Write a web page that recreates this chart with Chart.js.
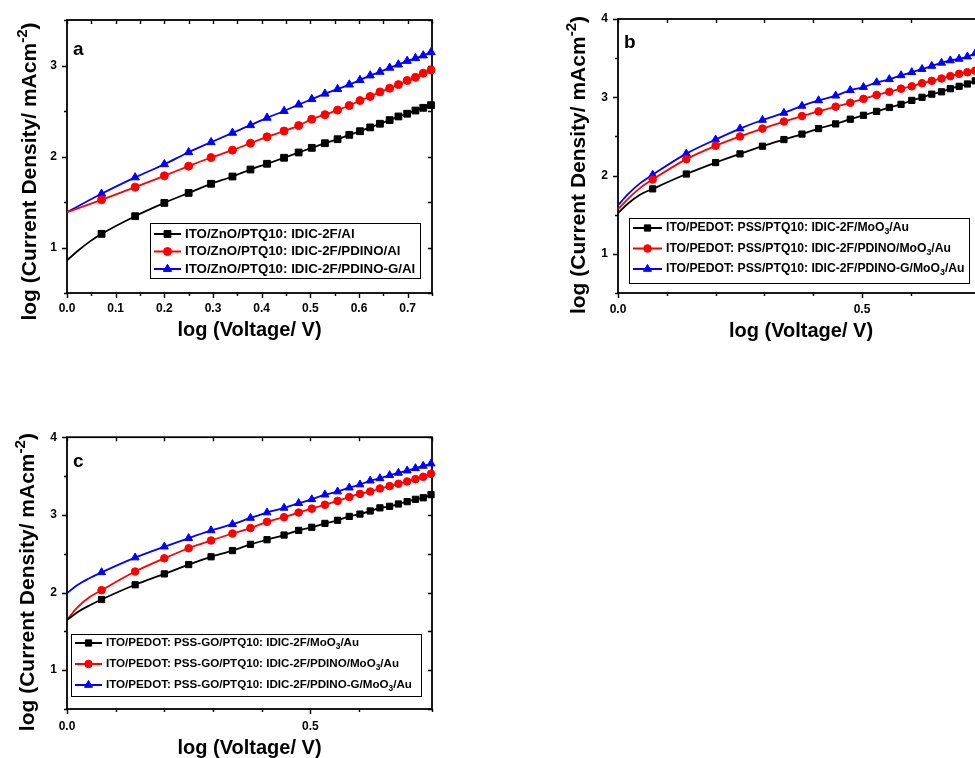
<!DOCTYPE html>
<html>
<head>
<meta charset="utf-8">
<script src="https://cdn.jsdelivr.net/npm/chart.js@4.4.0/dist/chart.umd.min.js"></script>
<style>
    html, body { margin: 0; padding: 0; background: #fff; overflow: hidden; width: 975px; height: 758px; }
    canvas { position: absolute; }
</style>
</head>
<body>
<canvas id="chart-a" width="450" height="345" style="left:0px;top:0px"></canvas>
<canvas id="chart-b" width="440" height="345" style="left:560px;top:0px"></canvas>
<canvas id="chart-c" width="450" height="338" style="left:0px;top:420px"></canvas>
<script>
// --- Data: log(V) where the markers sit, shared by all three devices ---
const logV = [0.071, 0.140, 0.200, 0.250, 0.296, 0.340, 0.377, 0.411, 0.446, 0.476, 0.503, 0.530,
              0.556, 0.580, 0.602, 0.623, 0.643, 0.663, 0.681, 0.699, 0.716, 0.732, 0.748];

// (a) ZnO cathode devices, log J at each logV
const aAl      = [1.15, 1.344, 1.49, 1.60, 1.70, 1.78, 1.857, 1.92, 1.986, 2.044, 2.095, 2.146,
                  2.19, 2.238, 2.278, 2.32, 2.36, 2.40, 2.44, 2.47, 2.505, 2.535, 2.564];
const aPdino   = [1.524, 1.663, 1.788, 1.894, 1.989, 2.07, 2.146, 2.216, 2.28, 2.34, 2.41, 2.46,
                  2.51, 2.56, 2.615, 2.66, 2.71, 2.75, 2.79, 2.835, 2.87, 2.915, 2.95];
const aPdinoG  = [1.59, 1.77, 1.915, 2.047, 2.157, 2.26, 2.344, 2.425, 2.50, 2.57, 2.63, 2.69,
                  2.74, 2.79, 2.84, 2.89, 2.93, 2.975, 3.01, 3.05, 3.08, 3.11, 3.146];
// unmarked points before the first marker
const aAlStart     = [[0, 0.86], [0.025, 0.975], [0.048, 1.07]];
const aPdinoStart  = [[0, 1.388]];
const aPdinoGStart = [[0, 1.388]];

// (b) PEDOT:PSS hole-only devices
const bMoO3    = [1.83, 2.02, 2.166, 2.277, 2.375, 2.46, 2.53, 2.60, 2.66, 2.72, 2.77, 2.82,
                  2.87, 2.91, 2.96, 3.00, 3.04, 3.07, 3.11, 3.14, 3.17, 3.21, 3.24];
const bPdino   = [1.95, 2.21, 2.38, 2.50, 2.60, 2.69, 2.76, 2.82, 2.88, 2.93, 2.98, 3.03,
                  3.07, 3.11, 3.14, 3.18, 3.21, 3.24, 3.27, 3.30, 3.32, 3.34, 3.37];
const bPdinoG  = [2.01, 2.28, 2.46, 2.60, 2.71, 2.80, 2.89, 2.96, 3.02, 3.09, 3.13, 3.19,
                  3.23, 3.28, 3.32, 3.36, 3.40, 3.44, 3.47, 3.49, 3.52, 3.56, 3.59];
const bMoO3Start   = [[0, 1.52], [0.02, 1.64], [0.045, 1.755]];
const bPdinoStart  = [[0, 1.57], [0.02, 1.70], [0.045, 1.84]];
const bPdinoGStart = [[0, 1.62], [0.02, 1.76], [0.045, 1.90]];

// (c) PEDOT:PSS-GO hole-only devices
const cMoO3    = [1.91, 2.10, 2.24, 2.36, 2.46, 2.54, 2.62, 2.68, 2.74, 2.80, 2.84, 2.89,
                  2.93, 2.98, 3.01, 3.05, 3.09, 3.11, 3.14, 3.17, 3.20, 3.22, 3.26];
const cPdino   = [2.03, 2.27, 2.44, 2.57, 2.67, 2.76, 2.83, 2.91, 2.97, 3.03, 3.08, 3.13,
                  3.18, 3.23, 3.27, 3.30, 3.34, 3.37, 3.40, 3.43, 3.46, 3.49, 3.53];
const cPdinoG  = [2.26, 2.45, 2.59, 2.70, 2.80, 2.88, 2.96, 3.03, 3.09, 3.15, 3.20, 3.26,
                  3.30, 3.35, 3.39, 3.44, 3.47, 3.51, 3.54, 3.57, 3.60, 3.63, 3.66];
const cMoO3Start   = [[0, 1.646], [0.02, 1.74], [0.045, 1.83]];
const cPdinoStart  = [[0, 1.646], [0.02, 1.80], [0.045, 1.935]];
const cPdinoGStart = [[0, 1.99], [0.02, 2.09], [0.045, 2.18]];

// legend labels (_3 = subscript)
const aLabels = ['ITO/ZnO/PTQ10: IDIC-2F/Al',
                 'ITO/ZnO/PTQ10: IDIC-2F/PDINO/Al',
                 'ITO/ZnO/PTQ10: IDIC-2F/PDINO-G/Al'];
const bLabels = ['ITO/PEDOT: PSS/PTQ10: IDIC-2F/MoO_3/Au',
                 'ITO/PEDOT: PSS/PTQ10: IDIC-2F/PDINO/MoO_3/Au',
                 'ITO/PEDOT: PSS/PTQ10: IDIC-2F/PDINO-G/MoO_3/Au'];
const cLabels = ['ITO/PEDOT: PSS-GO/PTQ10: IDIC-2F/MoO_3/Au',
                 'ITO/PEDOT: PSS-GO/PTQ10: IDIC-2F/PDINO/MoO_3/Au',
                 'ITO/PEDOT: PSS-GO/PTQ10: IDIC-2F/PDINO-G/MoO_3/Au'];

const X_TITLE = 'log (Voltage/ V)';
const Y_TITLE = 'log (Current Density/ mAcm^-2)';

const FAMILY = '"Liberation Sans", Arial, sans-serif';
const font = size => `bold ${size}px ${FAMILY}`;

// --- Text with sub/superscripts ---
function parseRuns(text) {
    const out = [];
    const re = /_(\d)|\^(-?\d)/g;
    let last = 0, m;
    while ((m = re.exec(text))) {
        if (m.index > last) out.push({ t: text.slice(last, m.index), s: 0 });
        out.push(m[1] ? { t: m[1], s: -1 } : { t: m[2], s: 1 });
        last = re.lastIndex;
    }
    if (last < text.length) out.push({ t: text.slice(last), s: 0 });
    return out;
}

function drawRich(ctx, text, x, y, size, align) {
    const runs = parseRuns(text);
    const small = size * 0.72;
    let w = 0;
    runs.forEach(r => {
        ctx.font = font(r.s ? small : size);
        r.w = ctx.measureText(r.t).width;
        w += r.w;
    });
    let cx = align === 'center' ? x - w / 2 : x;
    ctx.textAlign = 'left';
    ctx.textBaseline = 'middle';
    runs.forEach(r => {
        ctx.font = font(r.s ? small : size);
        const dy = r.s > 0 ? -size * 0.36 : r.s < 0 ? size * 0.32 : 0;
        ctx.fillText(r.t, cx, y + dy);
        cx += r.w;
    });
}

// --- Plugins ---
// Box frame with outward ticks on bottom/left and inward ticks on top/right
const framePlugin = {
    id: 'frame',
    beforeDatasetsDraw(chart) {
        const { ctx, chartArea: a, scales: { x, y } } = chart;
        ctx.save();
        ctx.strokeStyle = '#000';
        ctx.lineWidth = 1.4;
        ctx.beginPath();
        x.ticks.forEach(t => {
            const px = Math.round(x.getPixelForValue(t.value)) + 0.5;
            const len = t.label === '' ? 3 : 5;
            ctx.moveTo(px, a.bottom); ctx.lineTo(px, a.bottom + len);
            ctx.moveTo(px, a.top); ctx.lineTo(px, a.top + 4);
        });
        y.ticks.forEach(t => {
            const py = Math.round(y.getPixelForValue(t.value)) + 0.5;
            const len = t.label === '' ? 3 : 5;
            ctx.moveTo(a.left, py); ctx.lineTo(a.left - len, py);
            ctx.moveTo(a.right, py); ctx.lineTo(a.right - 4, py);
        });
        ctx.stroke();
        ctx.lineWidth = 1.8;
        ctx.strokeRect(a.left, a.top, a.right - a.left, a.bottom - a.top);
        ctx.restore();
    }
};

// Axis titles and panel letter
const titlesPlugin = {
    id: 'titles',
    afterDraw(chart, args, o) {
        const { ctx, chartArea: a } = chart;
        ctx.save();
        ctx.fillStyle = '#000';
        drawRich(ctx, X_TITLE, (a.left + a.right) / 2, a.bottom + o.xTitleGap, 20, 'center');
        ctx.translate(a.left - o.yTitleGap, (a.top + a.bottom) / 2 + o.yTitleShift);
        ctx.rotate(-Math.PI / 2);
        drawRich(ctx, Y_TITLE, 0, 0, 21, 'center');
        ctx.restore();
        ctx.save();
        ctx.fillStyle = '#000';
        ctx.font = font(19);
        ctx.textBaseline = 'alphabetic';
        ctx.fillText(o.letter, a.left + 6, a.top + o.letterDrop);
        ctx.restore();
    }
};

// Boxed legend with line + marker samples
const legendBoxPlugin = {
    id: 'legendBox',
    afterDraw(chart, args, o) {
        const ctx = chart.ctx;
        ctx.save();
        ctx.strokeStyle = '#000';
        ctx.lineWidth = 1;
        ctx.strokeRect(o.x + 0.5, o.y + 0.5, o.w, o.h);
        chart.data.datasets.forEach((ds, i) => {
            const cy = o.y + o.first + i * o.step;
            const x0 = o.x + 4;
            ctx.strokeStyle = ds.borderColor;
            ctx.fillStyle = ds.borderColor;
            ctx.lineWidth = 2;
            ctx.beginPath();
            ctx.moveTo(x0, cy);
            ctx.lineTo(x0 + o.line, cy);
            ctx.stroke();
            ctx.lineWidth = 1;
            Chart.helpers.drawPoint(ctx, { pointStyle: ds.pointStyle, radius: ds.markerSize, borderWidth: 1, rotation: 0 },
                x0 + o.line / 2, cy);
            ctx.fillStyle = '#000';
            drawRich(ctx, ds.label, x0 + o.line + 4, cy, o.fontSize, 'left');
        });
        ctx.restore();
    }
};

// --- Chart builders ---
function series(label, color, style, r, start, ys) {
    const pts = start.map(p => ({ x: p[0], y: p[1] }))
        .concat(logV.map((x, i) => ({ x, y: ys[i] })));
    return {
        label,
        data: pts,
        borderColor: color,
        backgroundColor: color,
        borderWidth: 1.8,
        pointStyle: style,
        markerSize: r,
        pointRadius: ctx => ctx.dataIndex < start.length ? 0 : r,
        pointHoverRadius: 0,
        pointBorderWidth: 1,
        cubicInterpolationMode: 'monotone',
        clip: false
    };
}

const near = (v, step) => Math.abs(v / step - Math.round(v / step)) < 1e-6;

function makeChart(id, cfg) {
    return new Chart(document.getElementById(id), {
        type: 'line',
        data: { datasets: cfg.datasets },
        options: {
            responsive: false,
            animation: false,
            events: [],
            layout: { padding: cfg.padding },
            plugins: {
                legend: { display: false },
                tooltip: { enabled: false },
                titles: cfg.titles,
                legendBox: cfg.legend
            },
            scales: {
                x: {
                    type: 'linear', min: 0, max: 0.75,
                    grid: { display: false, drawTicks: false }, border: { display: false },
                    ticks: {
                        stepSize: cfg.xStep, padding: cfg.xPad, autoSkip: false, maxRotation: 0,
                        color: '#000', font: { family: FAMILY, size: 12, weight: 'bold' },
                        callback: v => near(v, cfg.xMajor) ? v.toFixed(1) : ''
                    },
                    afterFit: s => { s.height = cfg.xHeight; }
                },
                y: {
                    type: 'linear', min: 0.5, max: cfg.yMax,
                    grid: { display: false, drawTicks: false }, border: { display: false },
                    ticks: {
                        stepSize: 0.5, padding: 10, autoSkip: false,
                        color: '#000', font: { family: FAMILY, size: 12, weight: 'bold' },
                        callback: v => Number.isInteger(v) ? String(v) : ''
                    },
                    afterFit: s => { s.width = cfg.yWidth; }
                }
            }
        },
        plugins: [framePlugin, titlesPlugin, legendBoxPlugin]
    });
}

makeChart('chart-a', {
    datasets: [
        series(aLabels[0], '#000000', 'rect', 4.8, aAlStart, aAl),
        series(aLabels[1], '#ff0000', 'circle', 4, aPdinoStart, aPdino),
        series(aLabels[2], '#0000ff', 'triangle', 4.8, aPdinoGStart, aPdinoG)
    ],
    padding: { top: 20, right: 18, left: 0, bottom: 0 },
    xStep: 0.05, xMajor: 0.1, yMax: 3.5, xPad: 8,
    xHeight: 52, yWidth: 67,
    titles: { letter: 'a', letterDrop: 35, xTitleGap: 37, yTitleGap: 37, yTitleShift: 15 },
    legend: { x: 150, y: 223, w: 270, h: 55, first: 11, step: 17.5, line: 27, fontSize: 13.3 }
});

makeChart('chart-b', {
    datasets: [
        series(bLabels[0], '#000000', 'rect', 4.4, bMoO3Start, bMoO3),
        series(bLabels[1], '#ff0000', 'circle', 3.8, bPdinoStart, bPdino),
        series(bLabels[2], '#0000ff', 'triangle', 4.6, bPdinoGStart, bPdinoG)
    ],
    padding: { top: 19, right: 16, left: 0, bottom: 0 },
    xStep: 0.1, xMajor: 0.5, yMax: 4, xPad: 9,
    xHeight: 52, yWidth: 58,
    titles: { letter: 'b', letterDrop: 29, xTitleGap: 38, yTitleGap: 39, yTitleShift: 9 },
    legend: { x: 69, y: 218, w: 340, h: 65, first: 10, step: 20.5, line: 29, fontSize: 12.2 }
});

makeChart('chart-c', {
    datasets: [
        series(cLabels[0], '#000000', 'rect', 4.4, cMoO3Start, cMoO3),
        series(cLabels[1], '#ff0000', 'circle', 3.8, cPdinoStart, cPdino),
        series(cLabels[2], '#0000ff', 'triangle', 4.6, cPdinoGStart, cPdinoG)
    ],
    padding: { top: 15, right: 18, left: 0, bottom: 0 },
    xStep: 0.1, xMajor: 0.5, yMax: 4, xPad: 10,
    xHeight: 49, yWidth: 67,
    titles: { letter: 'c', letterDrop: 30, xTitleGap: 39, yTitleGap: 39, yTitleShift: 9 },
    legend: { x: 71, y: 214, w: 350, h: 62, first: 9, step: 21, line: 27, fontSize: 11.6 }
});
</script>
</body>
</html>
